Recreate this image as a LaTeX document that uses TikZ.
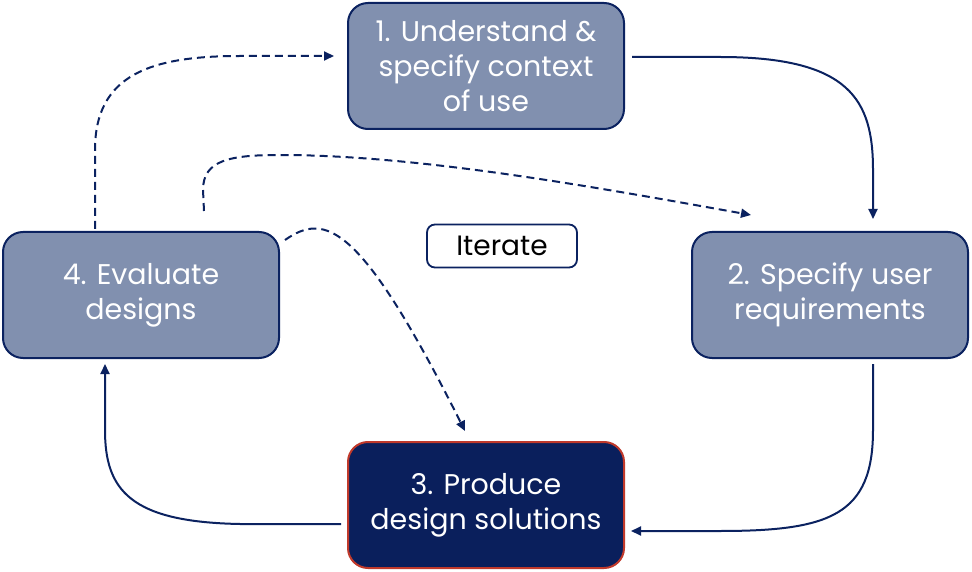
\documentclass[tikz,border=0pt]{standalone}
\usepackage{fontspec}
\setmainfont{Poppins}
\usetikzlibrary{arrows.meta}
\definecolor{navy}{HTML}{0B2260}
\definecolor{slate}{HTML}{8190AF}
\definecolor{deepnavy}{HTML}{0A1F5C}
\definecolor{redline}{HTML}{C0392B}
\tikzset{
  stepbox/.style={draw=navy, line width=2pt, fill=slate, rounded corners=20pt,
    minimum width=276pt, minimum height=126pt, align=center, text=white,
    font=\fontsize{28.5}{35}\selectfont, inner sep=0pt},
  mainbox/.style={stepbox, fill=deepnavy, draw=redline},
  iterbox/.style={draw=navy, line width=1.8pt, fill=white, rounded corners=8pt,
    minimum width=150pt, minimum height=43pt, font=\fontsize{28}{30}\selectfont, inner sep=0pt},
  flow/.style={draw=navy, line width=2pt, -{Triangle[length=10pt,width=9pt]}},
  dflow/.style={flow, dash pattern=on 8pt off 5pt}
}
\begin{document}
\begin{tikzpicture}[x=1pt,y=-1pt]
\useasboundingbox (0,0) rectangle (972,572);
\node[stepbox] (s1) at (486,66) {1. Understand \&\\specify context\\of use};
\node[stepbox] (s2) at (830,295) {2. Specify user\\requirements};
\node[mainbox] (s3) at (486,505) {3. Produce\\design solutions};
\node[stepbox] (s4) at (141,295) {4. Evaluate\\designs};
\node[iterbox] (it) at (502,246) {Iterate};
% solid cycle
\coordinate (a1) at (632,57);
\coordinate (a2) at (873,219);
\draw[flow] (a1) -- (720,57) .. controls (850,57) and (873,100) .. (873,170) -- (a2);
\coordinate (b1) at (873,364);
\coordinate (b2) at (631,531);
\draw[flow] (b1) -- (873,430) .. controls (873,515) and (830,531) .. (720,531) -- (b2);
\coordinate (c1) at (341,524);
\coordinate (c2) at (105,364);
\draw[flow] (c1) -- (240,524) .. controls (130,522) and (105,490) .. (105,430) -- (c2);
% dashed
\coordinate (d1) at (95,229);
\coordinate (d2) at (334,56);
\draw[dflow] (d1) -- (95,150) .. controls (95,75) and (150,56) .. (240,56) -- (d2);
\coordinate (e1) at (204,211);
\coordinate (e2) at (751,215);
\draw[dflow] (e1) -- (203,190) .. controls (203,160) and (230,155) .. (280,155) .. controls (420,155) and (600,188) .. (e2);
\coordinate (f1) at (285,240);
\coordinate (f2) at (465,431);
\draw[dflow] (f1) .. controls (325,212) and (360,222) .. (f2);
\end{tikzpicture}
\end{document}
